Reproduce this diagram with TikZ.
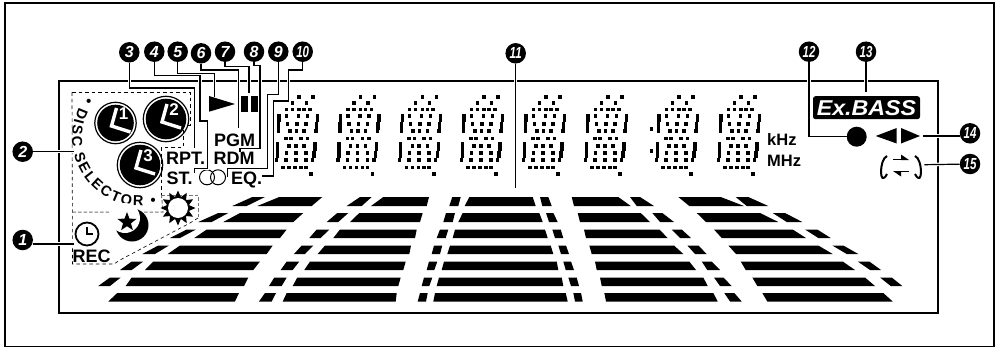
\documentclass[tikz,border=0pt]{standalone}
\usepackage{fontspec}
\setmainfont{Liberation Sans}
\usetikzlibrary{positioning,calc,shapes.geometric,decorations.text}

\newcommand{\fsz}[1]{\fontsize{#1}{#1}\selectfont}

\tikzset{
  frameline/.style={draw=black, line width=1.5pt},
  leader/.style={draw=black, line width=1.2pt, preaction={draw=white, line width=3.5pt}},
  dashline/.style={draw=black, line width=0.6pt, dash pattern=on 3.5pt off 3pt},
  greyline/.style={draw=black!55, line width=1pt, dash pattern=on 3.5pt off 2pt},
  callout/.style={circle, fill=black, text=white, inner sep=0pt, minimum size=20.5pt,
    font=\fsz{16}\bfseries\itshape},
  lcdlabel/.style={anchor=base west, inner sep=0pt, font=\fsz{18}\bfseries},
  unitlabel/.style={anchor=base west, inner sep=0pt, font=\fsz{16.5}\bfseries},
  discnum/.style={inner sep=0pt, text=white, font=\fsz{17}\bfseries}
}

\newcommand{\lcddigit}[1]{%
  \foreach \oy/\oxs in {96.7/{20,34},102.7/{13.3,27.3},109.3/{7.3,13.3,20,25,30.7},
      116/{0,7.3,19.3,28.3,38.3},120/{0,38.3},124/{-0.7,8.3,17.7,26.7,37.3},
      127.7/{-0.7,37.3},131/{-0.7,10.7,17.3,25,36.7},138.3/{6.7,12,21.7,28.3},
      143.3/{-1.7,36},145.7/{-1.7,10,16.7,25,36},149.3/{-1.7,36},
      152.7/{-1.7,7.3,16.7,26.7,35},156/{-1.7,35},160/{-2.7,6.7,16.7,26.7,33.3},
      167.3/{4,10,16,21.7,26.7},174/{31.7}}
    {\foreach \ox in \oxs {\fill (#1+\ox-1.8,\oy-1.8) rectangle ++(3.6,3.6);}}}

\newcommand{\lcddisc}[4]{%
  \draw[line width=1.2pt] (#1,#2) circle (#3+3.2);
  \fill (#1,#2) circle (#3+0.8);
  \draw[white, line width=3.4pt] (#1+1,#2-15) -- (#1-4,#2+3) -- (#1+15,#2+9);
  \node[discnum] (disc#4) at (#1+8,#2-9) {#4};}

\begin{document}
\begin{tikzpicture}[x=1pt, y=-1pt, font=\fsz{18}]
    \useasboundingbox (0,0) rectangle (1000,348);
    \draw[frameline] (5,3) rectangle (994,346.5);
    \draw[frameline] (59,81) rectangle (938,313);

    \foreach \ya/\yb/\segs in {
      197/206/{252.3/265/232.3/246.7,279.3/322.3/257.3/311.7,360/371.7/346.7/361.7,383.3/429/371/426.7,452.3/460.7/449.3/458.3,469.3/532.7/464.7/535.7,540/548.3/542.3/551.7,571.7/618.3/574/630.7,630/640/636.7/654,678.3/720.7/689.3/744,735.7/748.3/746.7/768.3},
      213/222/{218.3/228.3/198.3/211.7,240/303.3/223.3/293.3,337.3/348.3/326.7/338.3,359.3/422.7/350/420,446/455/443.3/452.7,462.7/539.3/458.3/542.7,546/553.3/549/557.7,577.7/640.7/580/650,652.3/662.3/660/674,696.7/760/706/778.3,772.7/785/786.7/802.3},
      229.5/238/{186.7/196/170/180,206.7/286.7/194.3/280,316.7/329.3/309.3/320.7,340/416.7/333.3/415,440/448.3/436.7/445.7,455/545/452.7/547.7,552.3/560.7/555/563.3,584/659.3/586/667.7,671.7/681.7/680/691,714/792.7/721.7/806,805/817.3/818.3/830.7},
      245.5/254/{158.3/169/142.3/155,180/272.7/167.7/266.7,301.7/313.3/294/305,325/411/317.7/409.3,434/442.3/431.7/440,450/550.7/447.3/553.3,558.3/566/561/569,589.3/674/591.7/683.3,687.3/698.3/695/706.7,728.3/818.3/736/832.7,832.3/843.3/846.7/858.3},
      261.5/270/{131.7/143.3/120/131.7,153.3/260/145/253.3,286.7/299.3/280.7/292.7,310/405.7/304.3/403.3,429/437.3/426.7/434.3,444/556.7/441.7/558.3,563.3/571/565.7/574,595/689.3/596.7/696,701.7/711.7/707.3/720,740.7/842.7/745.7/855,857.7/869.3/870/881},
      277.5/286/{110/120.7/98.3/110,131.7/248.3/125.7/244,274.3/286.7/269/281.7,297.3/400.7/292.7/398.3,424/432.3/421.7/429.3,439/561.7/436.7/563.3,568.3/576.7/571/579,600/703.3/601.7/707.7,714/723.3/720/731.7,752.3/865/757.3/875,880/891.7/890.7/902.3},
      293/301.5/{117.3/239/108.3/235,265/276/259/271.7,286.7/396.7/282.7/395.7,420/427.7/417.7/426,435/565.7/433.3/567.7,573.3/581/575/582.7,604.3/713.3/606/717.7,724.3/734.3/730/741.7,762.3/883.3/767.3/892.7}}
      {\foreach \tl/\tr/\bl/\br in \segs
        {\fill (\tl,\ya) -- (\tr,\ya) -- (\br,\yb) -- (\bl,\yb) -- cycle;}}

    \foreach \dx in {279,340.6,402.3,464,526,588,659,721} {\lcddigit{\dx}}
    \fill (649.5,127) rectangle ++(3.6,3.6);
    \fill (649.5,149) rectangle ++(3.6,3.6);

    \draw[dashline] (72,92) -- (190,92) -- (190,125) -- (183,125) -- (183,147) -- (161.5,147)
      -- (161.5,195);
    \draw[dashline] (198,218) -- (190,223) -- (120,260) -- (114,264) -- (72.5,264) -- (72,92);
    \draw[greyline] (161.5,195) -- (198,195) -- (198,218);
    \draw[greyline] (72.5,212) -- (163,212) -- (161.5,195);

    \lcddisc{115.5}{123}{17.5}{1}
    \lcddisc{166}{119}{19.5}{2}
    \lcddisc{140}{165}{19.5}{3}

    \path[decorate, decoration={text along path, text align={fit to path},
        text={|\fsz{14.5}\bfseries|• DISC SELECTOR •}}]
      (140,138) ++(218:68) arc[start angle=218, end angle=76, radius=68];

    \node[star, star points=12, star point ratio=1.55, fill=black, inner sep=0pt,
          minimum size=35pt] (sunrays) at (178,208) {};
    \node[circle, fill=white, inner sep=0pt, minimum size=20pt] (suncore) at (sunrays) {};

    \node[circle, fill=black, inner sep=0pt, minimum size=33pt] (moon) at (132,225) {};
    \node[circle, fill=white, inner sep=0pt, minimum size=30pt] (moonhole) at (125,218) {};
    \node[star, star points=5, star point ratio=2.4, fill=black, inner sep=0pt,
          minimum size=20pt] (moonstar) at (127,222) {};

    \node[circle, draw, line width=1.8pt, inner sep=0pt, minimum size=23pt] (clock) at (87,234) {};
    \draw[line width=1.6pt] (clock.center) ++(0,-7) -- (clock.center) -- ++(6,0);

    \node[lcdlabel] (rec) at (72.5,262) {REC};
    \node[lcdlabel] (rpt) at (166,164.3) {RPT.};
    \node[lcdlabel] (st) at (166.5,184.3) {ST.};
    \node[lcdlabel] (pgm) at (214,146) {PGM};
    \node[lcdlabel] (rdm) at (213.5,164.3) {RDM};
    \node[lcdlabel] (eq) at (231,184.3) {EQ.};
    \node[unitlabel] (khz) at (767,145.5) {kHz};
    \node[unitlabel] (mhz) at (767,166.5) {MHz};

    \node[circle, draw, line width=1pt, fill=white, inner sep=0pt, minimum size=15pt] (ringa) at (207,177.3) {};
    \node[circle, draw, line width=1pt, inner sep=0pt, minimum size=15pt] (ringb) at (218,177.3) {};

    \fill (209,96) -- (235,104) -- (209,111.7) -- cycle;
    \fill (241,95.7) rectangle (247.7,112.3);
    \fill (251,95.7) rectangle (257.7,112.3);

    \node[rectangle, rounded corners=2.5pt, fill=black, text=white, inner sep=0pt,
          minimum width=107pt, minimum height=23pt, font=\fsz{21.5}\bfseries\itshape]
      (bass) at (866.5,107.7) {\scalebox{1.08}[1]{Ex.BASS}};
    \node[circle, fill=black, inner sep=0pt, minimum size=20pt] (recdot) at (856.7,136.7) {};
    \fill (875.7,136) -- (896.7,128) -- (896.7,143.5) -- cycle;
    \fill (901,128) -- (920,136) -- (901,143.5) -- cycle;

    \coordinate (loop) at (901,165);
    \draw[line width=2pt] (loop) ++(-14,-9) .. controls ++(-8,3) and ++(-8,15) .. ++(0,18);
    \draw[line width=2pt] (loop) ++(14,-9) .. controls ++(8,3) and ++(8,15) .. ++(0,18);
    \draw[line width=1.8pt] (loop) ++(-8,-5.5) -- ++(13,0);
    \fill (loop) ++(0,-5) -- ++(8,0) -- ++(-8,-5.5) -- cycle;
    \draw[line width=1.8pt] (loop) ++(-5,6.5) -- ++(13,0);
    \fill (loop) ++(0,6) -- ++(-8,0) -- ++(8,5.5) -- cycle;

    \foreach \cx/\cy/\cn in {22.7/240/1,22.7/151.7/2,129.3/52.3/3,154.3/51.7/4,177.7/51.7/5,
        201/53.3/6,225/51.7/7,254/51.7/8,278.3/51.7/9}
      {\node[callout] (n\cn) at (\cx,\cy) {\cn};}
    \foreach \cx/\cy/\cn in {302.7/51.7/10,515.7/53.3/11,809/51.7/12,866/51.7/13,970/133.3/14,970/164/15}
      {\node[callout] (n\cn) at (\cx,\cy) {\scalebox{.72}[1]{\cn}};}

    \coordinate (t1) at (74,244);
    \coordinate (t2) at (74,151.7);
    \coordinate (t3) at (194.3,148.3);
    \coordinate (t4) at (194.3,173);
    \coordinate (t5) at (214.3,96.7);
    \coordinate (t6) at (238.3,128.3);
    \coordinate (t7) at (249,93.3);
    \coordinate (t8) at (240,151.7);
    \coordinate (t9) at (227.7,176.7);
    \coordinate (t10) at (262.3,176);
    \coordinate (t11) at (515.7,188);
    \coordinate (t12) at (recdot.west);
    \coordinate (t13) at (866,92.3);
    \coordinate (t14) at (923.3,136);
    \coordinate (t15) at (924.3,164.7);

    \draw[leader] (n1.east |- t1) -- (t1);
    \draw[leader] (n2) -- (t2);
    \draw[leader] (n3) |- (194.3,88) -- (t3);
    \draw[leader] (n4) |- (200,75.7) -- (200,121) -- (207.7,121) -- (207.7,168.3) -- (194.3,168.3) -- (t4);
    \draw[leader] (n5) |- (214.3,73.3) -- (t5);
    \draw[leader] (n6) |- (238.3,70) -- (t6);
    \draw[leader] (n7) |- (249,66.7) -- (t7);
    \draw[leader] (n8) |- (260,65.7) -- (260,148.3) -- (240,148.3) -- (t8);
    \draw[leader] (n9) |- (267.7,94.3) -- (267.7,168.3) -- (227.7,168.3) -- (t9);
    \draw[leader] (n10) |- (288.3,70) -- (288.3,101) -- (273.3,101) -- (273.3,176) -- (t10);
    \draw[leader] (n11) -- (t11);
    \draw[leader] (n12) |- (t12);
    \draw[leader] (n13) -- (t13);
    \draw[leader] (n14.west |- t14) -- (t14);
    \draw[leader] (n15) -- (t15);
  \end{tikzpicture}
\end{document}
